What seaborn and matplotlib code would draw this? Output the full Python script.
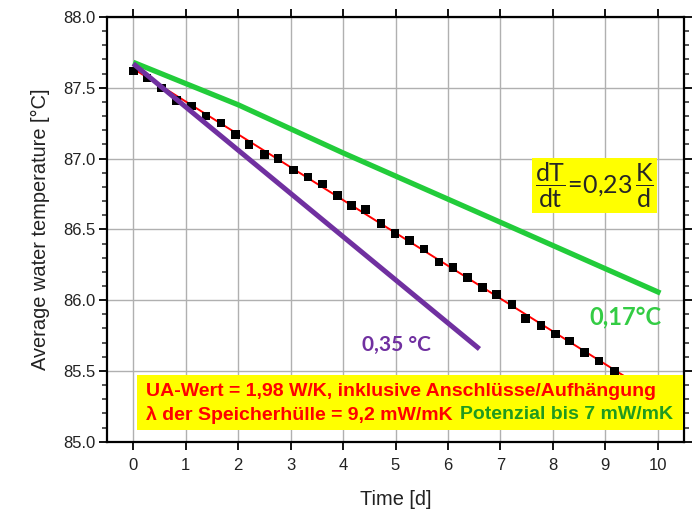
import numpy as np
import pandas as pd
import seaborn as sns
import matplotlib.pyplot as plt
from matplotlib.patches import Rectangle
from matplotlib.ticker import MultipleLocator

# ------------------------------
# data
# ------------------------------
time_d = [0.00, 0.26, 0.54, 0.83, 1.11, 1.39, 1.67, 1.95, 2.21, 2.50,
          2.76, 3.05, 3.33, 3.61, 3.89, 4.16, 4.43, 4.72, 4.99, 5.27,
          5.54, 5.83, 6.10, 6.37, 6.66, 6.93, 7.22, 7.48, 7.77, 8.05,
          8.32, 8.60, 8.88, 9.18]
temp_c = [87.62, 87.57, 87.50, 87.41, 87.37, 87.30, 87.25, 87.17, 87.10, 87.03,
          87.00, 86.92, 86.87, 86.82, 86.74, 86.67, 86.64, 86.54, 86.47, 86.42,
          86.36, 86.27, 86.23, 86.16, 86.09, 86.04, 85.97, 85.87, 85.82, 85.76,
          85.71, 85.63, 85.57, 85.50]

fit_t = [0.0, 9.6]
fit_y = [87.635, 85.408]

purple_t = [0.0, 6.6]
purple_y = [87.67, 85.655]

green_t = [0.0, 1.0, 2.0, 4.0, 7.0, 10.05]
green_y = [87.68, 87.53, 87.38, 87.04, 86.55, 86.05]

xticks = list(range(0, 11))
yticks = [85.0, 85.5, 86.0, 86.5, 87.0, 87.5, 88.0]

# ------------------------------
# style
# ------------------------------
sns.set_theme(style="ticks")
plt.rcParams["font.family"] = ["Liberation Sans", "DejaVu Sans"]
plt.rcParams["mathtext.fontset"] = "custom"
plt.rcParams["mathtext.rm"] = "Lato"
plt.rcParams["mathtext.it"] = "Lato:italic"

fig = plt.figure(figsize=(6.94, 5.09), dpi=100)
ax = fig.add_axes([0.1542, 0.1322, 0.8314, 0.8344])

data = pd.DataFrame({"t": time_d, "T": temp_c})

sns.lineplot(x=fit_t, y=fit_y, ax=ax, color="#ff0000", lw=1.4, zorder=3)
sns.lineplot(x=purple_t, y=purple_y, ax=ax, color="#7030a0", lw=3.6, zorder=4,
             solid_capstyle="butt")
sns.lineplot(x=green_t, y=green_y, ax=ax, color="#22cc3a", lw=3.8, zorder=2,
             solid_capstyle="butt")
sns.scatterplot(data=data, x="t", y="T", ax=ax, marker="s", s=38,
                color="black", edgecolor="none", zorder=3.5)

ax.set_xlim(-0.5, 10.5)
ax.set_ylim(85.0, 88.0)
ax.set_xticks(xticks)
ax.set_yticks(yticks)
ax.set_yticklabels([f"{v:.1f}" for v in yticks])
ax.yaxis.set_minor_locator(MultipleLocator(0.1))
ax.grid(True, which="major", color="#b0b0b0", lw=1.0)
ax.set_axisbelow(True)

for sp in ax.spines.values():
    sp.set_visible(True)
    sp.set_color("black")
    sp.set_linewidth(1.6)

ax.tick_params(axis="both", which="major", direction="out", length=6, width=1.3,
               labelsize=12, colors="black", labelcolor="#222222", top=True, right=True)
ax.tick_params(axis="y", which="minor", direction="out", length=3.5, width=1.1,
               right=True, left=True)
ax.tick_params(axis="x", which="major", pad=6)
ax.tick_params(axis="y", which="major", pad=2)
ax.tick_params(axis="x", labeltop=False)
ax.tick_params(axis="y", labelright=False)

ax.set_xlabel("Time [d]", fontsize=14.4, labelpad=12, color="#222222")
ax.set_ylabel("Average water temperature [°C]", fontsize=14.4, labelpad=10, color="#222222")

# annotations
ax.text(5.02, 85.685, "0,35 °C", color="#7030a0", fontsize=15, fontweight="bold",
        family=["Lato", "DejaVu Sans"], ha="center", va="center", zorder=6)
ax.text(9.38, 85.88, "0,17°C", color="#33cc44", fontsize=17, fontweight="bold",
        family=["Lato", "DejaVu Sans"], ha="center", va="center", zorder=6)

ax.text(8.79, 86.81, r"$\dfrac{\mathrm{dT}}{\mathrm{dt}}\!=\!0{,}23\,\dfrac{\mathrm{K}}{\mathrm{d}}$",
        fontsize=18, ha="center", va="center", zorder=6,
        bbox=dict(boxstyle="square,pad=0.12", fc="#ffff00", ec="none"))

ax.add_patch(Rectangle((0.0515, 0.0275), 0.9465, 0.1295, transform=ax.transAxes,
                       facecolor="#ffff00", edgecolor="none", zorder=7))
ax.text(0.0674, 0.1177, "UA-Wert = 1,98 W/K, inklusive Anschlüsse/Aufhängung",
        transform=ax.transAxes, color="#ff0000", fontsize=14, fontweight="bold",
        ha="left", va="center", zorder=8)
ax.text(0.0674, 0.0629, "λ der Speicherhülle = 9,2 mW/mK",
        transform=ax.transAxes, color="#ff0000", fontsize=14, fontweight="bold",
        ha="left", va="center", zorder=8)
ax.text(0.981, 0.0629, "Potenzial bis 7 mW/mK",
        transform=ax.transAxes, color="#1f9a1f", fontsize=14, fontweight="bold",
        ha="right", va="center", zorder=8)

fig.savefig("out.png", dpi=100)
